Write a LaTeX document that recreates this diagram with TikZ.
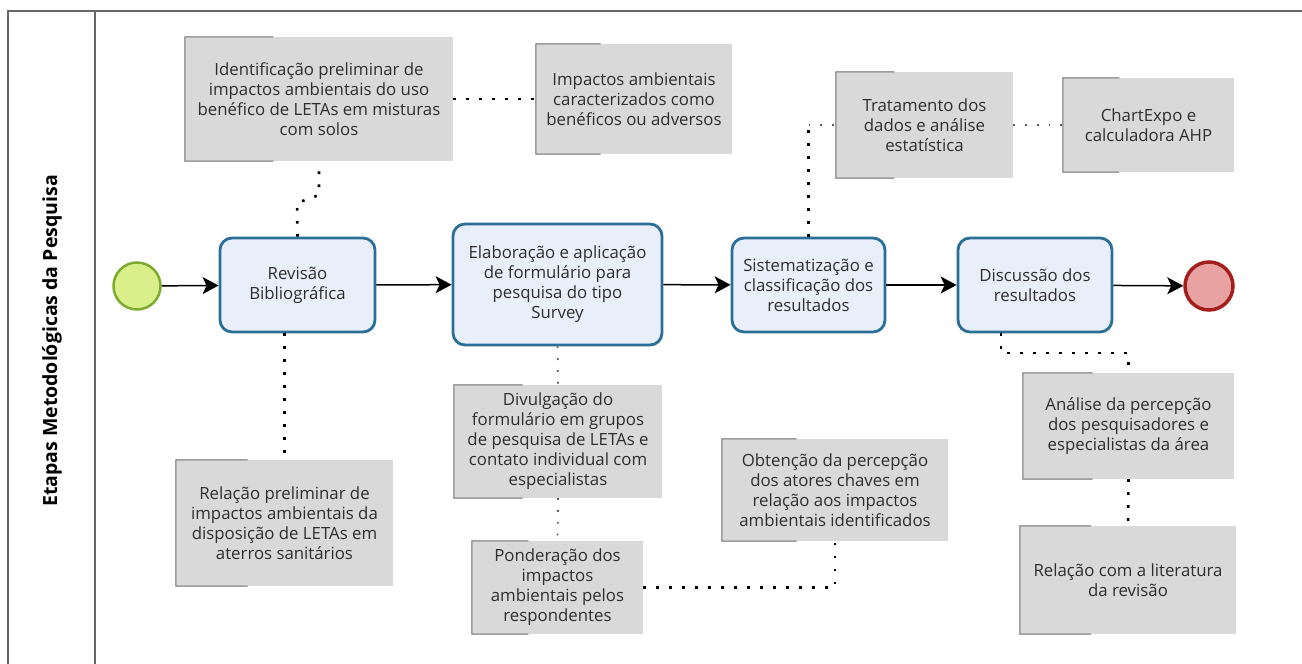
\documentclass[tikz,border=0pt]{standalone}
\usepackage{fontspec}
\setmainfont{Open Sans}
\usetikzlibrary{arrows.meta,calc}
\definecolor{taskfill}{HTML}{E9EEFB}
\definecolor{taskdraw}{HTML}{2B6E96}
\definecolor{annfill}{HTML}{D9D9D9}
\definecolor{brk}{HTML}{6A6A6A}
\definecolor{txt}{HTML}{2E2E2E}
\definecolor{startfill}{HTML}{D9F08A}
\definecolor{startdraw}{HTML}{7EAA2F}
\definecolor{endfill}{HTML}{E8A2A2}
\definecolor{enddraw}{HTML}{A41E1E}
\definecolor{framec}{HTML}{666666}
\tikzset{
  every node/.style={font=\fontsize{16.8}{20}\selectfont, text=txt},
  task/.style={draw=taskdraw, fill=taskfill, line width=2.8pt, rounded corners=12pt, align=center, inner sep=0pt},
  ann/.style={fill=annfill, align=center, inner sep=0pt},
  brkline/.style={draw=brk, line width=1pt},
  flow/.style={line width=1.5pt, -{Stealth[length=16pt,width=17pt,inset=4pt]}},
  assoc/.style={line width=2.6pt, dash pattern=on 2.6pt off 10.4pt},
  assocl/.style={line width=1.8pt, draw=black!65, dash pattern=on 1.8pt off 10pt},
  framel/.style={draw=framec, line width=2pt},
}
\begin{document}
\begin{tikzpicture}[x=1pt,y=-1pt]
\useasboundingbox (0,0) rectangle (1302,664);
% frame
\draw[framel] (8,664) -- (8,11) -- (1302,11);
\draw[framel] (95,11) -- (95,664);
\node[rotate=90, font=\fontsize{19.5}{22}\selectfont\bfseries, text=black] (lane) at (52,341) {Etapas Metodológicas da Pesquisa};
% events
\node[circle, minimum size=47pt, inner sep=0pt, fill=startfill, draw=startdraw, line width=2.5pt] (start) at (137,286) {};
\node[circle, minimum size=48pt, inner sep=0pt, fill=endfill, draw=enddraw, line width=3.5pt] (end) at (1209,286) {};
% tasks
\node[task, minimum width=155pt, minimum height=94pt] (rev) at (297.5,285) {Revisão\\Bibliográfica};
\node[task, minimum width=209pt, minimum height=121pt] (elab) at (557.5,284.5) {Elaboração e aplicação\\de formulário para\\pesquisa do tipo\\Survey};
\node[task, minimum width=153pt, minimum height=94pt] (sist) at (808.5,285) {Sistematização e\\classificação dos\\resultados};
\node[task, minimum width=154pt, minimum height=94pt] (disc) at (1035,285) {Discussão dos\\resultados};
% annotations
\node[ann, minimum width=268pt, minimum height=124pt] (a1) at (319,99) {Identificação preliminar de\\impactos ambientais do uso\\benéfico de LETAs em misturas\\com solos};
\node[ann, minimum width=196pt, minimum height=110pt] (a2) at (634,99) {Impactos ambientais\\caracterizados como\\benéficos ou adversos};
\node[ann, minimum width=177pt, minimum height=106pt] (a3) at (924.5,125) {Tratamento dos\\dados e análise\\estatística};
\node[ann, minimum width=171pt, minimum height=94pt] (a4) at (1148.5,125) {ChartExpo e\\calculadora AHP};
\node[ann, minimum width=217pt, minimum height=126pt] (b1) at (284.5,523) {Relação preliminar de\\impactos ambientais da\\disposição de LETAs em\\aterros sanitários};
\node[ann, minimum width=208pt, minimum height=113pt] (b2) at (558,441.5) {Divulgação do\\formulário em grupos\\de pesquisa de LETAs e\\contato individual com\\especialistas};
\node[ann, minimum width=171pt, minimum height=93pt] (b3) at (557.5,587.5) {Ponderação dos\\impactos\\ambientais pelos\\respondentes};
\node[ann, minimum width=226pt, minimum height=102pt] (b4) at (835,490) {Obtenção da percepção\\dos atores chaves em\\relação aos impactos\\ambientais identificados};
\node[ann, minimum width=211pt, minimum height=106pt] (b5) at (1128.5,426) {Análise da percepção\\dos pesquisadores e\\especialistas da área};
\node[ann, minimum width=216pt, minimum height=108pt] (b6) at (1128,580) {Relação com a literatura\\da revisão};
\foreach \n in {a1,a2,a3,a4,b1,b2,b3,b4,b5,b6}{
  \draw[brkline] ($(\n.north west)!0.33!(\n.north east)$) -- (\n.north west) -- (\n.south west) -- ($(\n.south west)!0.33!(\n.south east)$);
}
% sequence flows
\draw[flow] (start) -- (rev);
\draw[flow] (rev) -- (elab);
\draw[flow] (elab) -- (sist);
\draw[flow] (sist) -- (disc);
\draw[flow] (disc) -- (end);
% associations
\coordinate (k1) at (297,203);
\coordinate (k2) at (319,195);
\coordinate (k3) at (1001,353);
\draw[assoc] (a1.east) -- (a2.west);
\draw[assoc] (rev.north) -- (k1) -- (k2) -- (a1.south);
\draw[assoc] (sist.north) -- (sist.north |- a3.west);
\draw[assocl] (sist.north |- a3.west) -- (a3.west);
\draw[assocl] (a3.east) -- (a4.west);
\draw[assoc] (b1.north |- rev.south) -- (b1.north);
\draw[assocl] (elab.south) -- (b2.north);
\draw[assocl] (b2.south) -- (b3.north);
\draw[assoc] (b3.east) -| (b4.south);
\draw[assoc] (k3 |- disc.south) -- (k3) -| (b5.north);
\draw[assoc] (b5.south) -- (b6.north);
\end{tikzpicture}
\end{document}
